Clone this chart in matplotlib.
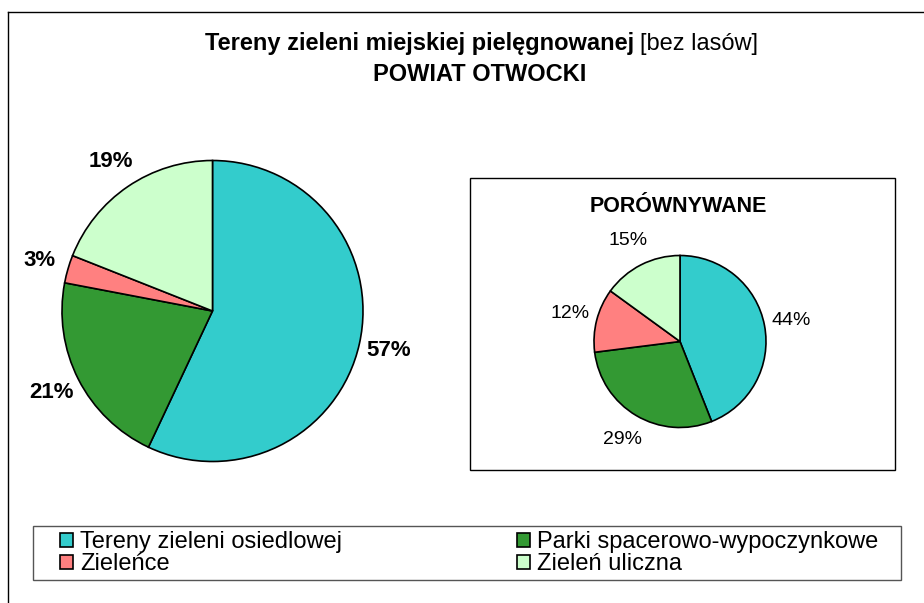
import matplotlib.pyplot as plt
from matplotlib.patches import Rectangle
from matplotlib.lines import Line2D

plt.rcParams['font.family'] = ['Liberation Sans', 'DejaVu Sans']

# data
categories = ["Tereny zieleni osiedlowej", "Parki spacerowo-wypoczynkowe",
              "Zieleńce", "Zieleń uliczna"]
otwocki_share = [57, 21, 3, 19]
compared_share = [44, 29, 12, 15]
colors = ["#33CCCC", "#339933", "#FF8080", "#CCFFCC"]

W, H = 924, 603
fig = plt.figure(figsize=(W / 100, H / 100), dpi=100)


def px_axes(cx, cy, r, pad=1.25):
    """Square axes around a pie centre given in pixels (y from top)."""
    half = r * pad
    return fig.add_axes([(cx - half) / W, (H - cy - half) / H,
                         2 * half / W, 2 * half / H])


# outer chart border (only top and left visible in the crop)
fig.add_artist(Line2D([8 / W, 1.01], [1 - 12 / H, 1 - 12 / H],
                      color="black", lw=1.0, transform=fig.transFigure))
fig.add_artist(Line2D([8 / W, 8 / W], [1 - 12 / H, -0.01],
                      color="black", lw=1.0, transform=fig.transFigure))

# title
fig.text(634 / W, 1 - 50 / H, "Tereny zieleni miejskiej pielęgnowanej",
         ha="right", va="baseline", fontsize=17, fontweight="bold")
fig.text(640 / W, 1 - 50 / H, "[bez lasów]",
         ha="left", va="baseline", fontsize=17)
fig.text(480 / W, 1 - 81 / H, "POWIAT OTWOCKI",
         ha="center", va="baseline", fontsize=17, fontweight="bold")

# main pie
ax1 = px_axes(212.5, 311, 150.5)
wedges, _, pct1 = ax1.pie(otwocki_share, colors=colors, startangle=90,
                          counterclock=False, autopct="%1.0f%%",
                          pctdistance=1.2, labeldistance=None,
                          wedgeprops=dict(edgecolor="black", linewidth=1.2))
for t in pct1:
    t.set_fontsize(16)
    t.set_fontweight("bold")
ax1.set_xlim(-1.25, 1.25)
ax1.set_ylim(-1.25, 1.25)

# comparison box
fig.add_artist(Rectangle((470 / W, 1 - 470 / H), 425 / W, 292 / H,
                         transform=fig.transFigure, fill=False,
                         edgecolor="black", lw=1.0))
fig.text(678 / W, 1 - 207 / H, "PORÓWNYWANE", ha="center", va="center",
         fontsize=15.5, fontweight="bold")

ax2 = px_axes(680, 341.5, 86)
_, _, pct2 = ax2.pie(compared_share, colors=colors, startangle=90,
                     counterclock=False, autopct="%1.0f%%",
                     pctdistance=1.32, labeldistance=None,
                     wedgeprops=dict(edgecolor="black", linewidth=1.2))
for t in pct2:
    t.set_fontsize(14)
ax2.set_xlim(-1.25, 1.25)
ax2.set_ylim(-1.25, 1.25)

# legend, filled row by row like the original
order = [0, 2, 1, 3]
fig.add_artist(Rectangle((33 / W, 1 - 580 / H), 868 / W, 54 / H,
                         transform=fig.transFigure, fill=False,
                         edgecolor="#555555", lw=1.0))
fig.legend([wedges[i] for i in order], [categories[i] for i in order],
           ncol=2, mode="expand", frameon=False,
           loc="center", bbox_to_anchor=(60 / W, 1 - 580 / H, 818 / W, 54 / H),
           fontsize=17, handlelength=0.55, handleheight=0.55,
           handletextpad=0.3, labelspacing=0.0, borderpad=0,
           borderaxespad=0)

fig.savefig("out.png", dpi=100)
